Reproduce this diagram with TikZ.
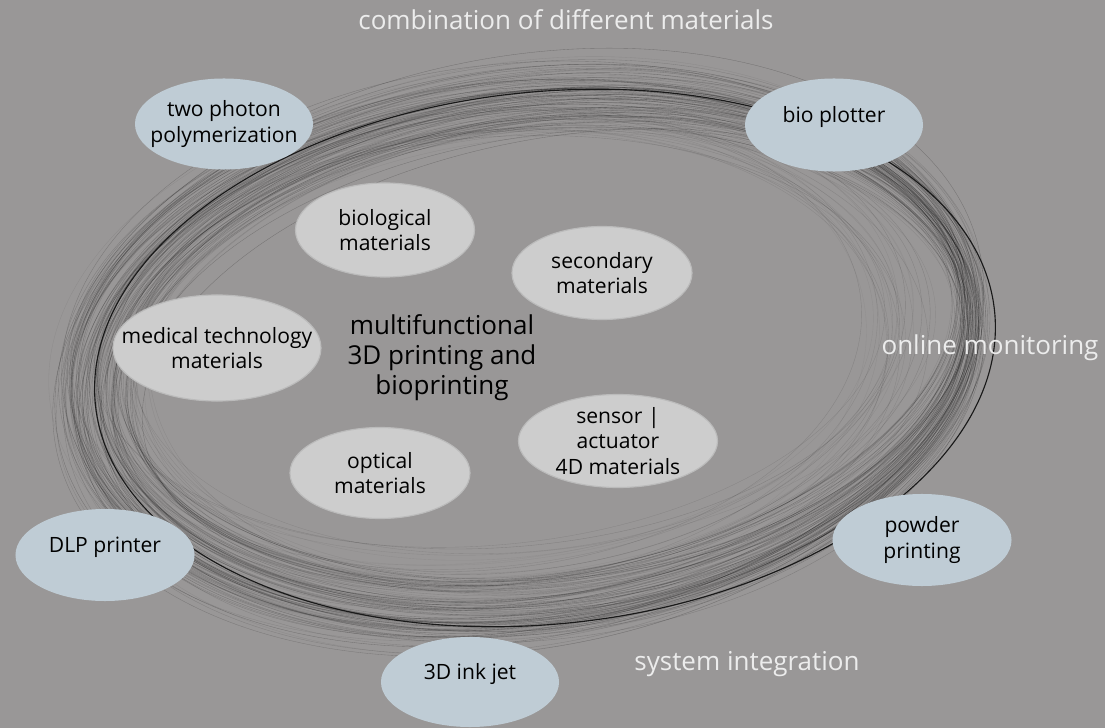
\documentclass[tikz,border=0pt]{standalone}
\usepackage{fontspec}
\setmainfont{Open Sans}
\usetikzlibrary{shapes.geometric}
\definecolor{bggray}{HTML}{999797}
\definecolor{techblue}{HTML}{BFCCD5}
\definecolor{matgray}{HTML}{CDCDCD}
\definecolor{matline}{HTML}{BBBBBB}
\definecolor{topicwhite}{HTML}{ECECEC}

\begin{document}
\begin{tikzpicture}[x=0.025cm, y=-0.025cm,
  tech/.style={ellipse, fill=techblue, inner xsep=-20pt, inner ysep=-5pt, align=center, font=\fontsize{15}{18}\selectfont},
  mat/.style={ellipse, fill=matgray, draw=matline, line width=0.8pt, inner xsep=-20pt, inner ysep=-5pt, align=center, font=\fontsize{15}{18}\selectfont},
  topic/.style={text=topicwhite, inner sep=0pt, font=\fontsize{18.5}{22}\selectfont},
  ring/.style={line width=0.25pt, black}]
\fill[bggray] (0,0) rectangle (1105,728);
\useasboundingbox (0,0) rectangle (1105,728);

\pgfmathsetseed{11}
\foreach \k in {1,...,110}{
  \pgfmathsetmacro{\s}{rnd}
  \pgfmathsetmacro{\cx}{545-25*\s+6*rand}
  \pgfmathsetmacro{\cy}{355+8*rand}
  \pgfmathsetmacro{\rx}{420+45*\s+8*rand}
  \pgfmathsetmacro{\ry}{225+60*\s+8*rand}
  \pgfmathsetmacro{\tilt}{4+8*rnd}
  \pgfmathsetmacro{\op}{0.07+0.18*rnd}
  \draw[ring, opacity=\op, shift={(\cx,\cy)}, rotate=\tilt] (0,0) ellipse [x radius=\rx, y radius=\ry];
}
\foreach \k in {1,...,25}{
  \pgfmathsetmacro{\cx}{505+20*rand}
  \pgfmathsetmacro{\cy}{350+12*rand}
  \pgfmathsetmacro{\rx}{395+35*rand}
  \pgfmathsetmacro{\ry}{225+20*rand}
  \pgfmathsetmacro{\tilt}{5+4*rand}
  \pgfmathsetmacro{\op}{0.05+0.1*rnd}
  \draw[ring, opacity=\op, shift={(\cx,\cy)}, rotate=\tilt] (0,0) ellipse [x radius=\rx, y radius=\ry];
}
\draw[line width=0.8pt, black!90, shift={(545,358)}, rotate=6] (0,0) ellipse [x radius=452, y radius=266];

\node[topic] (combination) at (566,20) {combination of different materials};
\node[topic] (monitoring) at (990,348) {online monitoring};
\node[topic] (integration) at (747,664) {system integration};

\node[mat, minimum width=4.475cm, minimum height=2.35cm] (biological) at (385,230) {biological\\materials};
\node[mat, minimum width=4.5cm, minimum height=2.325cm] (secondary) at (602,273) {secondary\\materials};
\node[mat, minimum width=5.2cm, minimum height=2.65cm] (medical) at (217,348) {medical technology\\materials};
\node[mat, minimum width=4.5cm, minimum height=2.275cm] (optical) at (380,473) {optical\\materials};
\node[mat, minimum width=4.975cm, minimum height=2.325cm] (sensor) at (618,441) {sensor |\\actuator\\4D materials};
\node[align=center, font=\fontsize{18.5}{21.3}\selectfont] (printing) at (442,358) {multifunctional\\3D printing and\\bioprinting};

\node[tech, minimum width=4.45cm, minimum height=2.275cm] (twophoton) at (224,124) {two photon\\polymerization};
\node[tech, minimum width=4.45cm, minimum height=2.325cm] (bioplotter) at (834,125) {\raisebox{2pt}[0pt][0pt]{bio plotter}};
\node[tech, minimum width=4.475cm, minimum height=2.3cm] (dlp) at (105,555) {\raisebox{2pt}[0pt][0pt]{DLP printer}};
\node[tech, minimum width=4.475cm, minimum height=2.3cm] (powder) at (922,540) {powder\\printing};
\node[tech, minimum width=4.45cm, minimum height=2.25cm] (inkjet) at (470,682) {\raisebox{2pt}[0pt][0pt]{3D ink jet}};
\end{tikzpicture}
\end{document}
